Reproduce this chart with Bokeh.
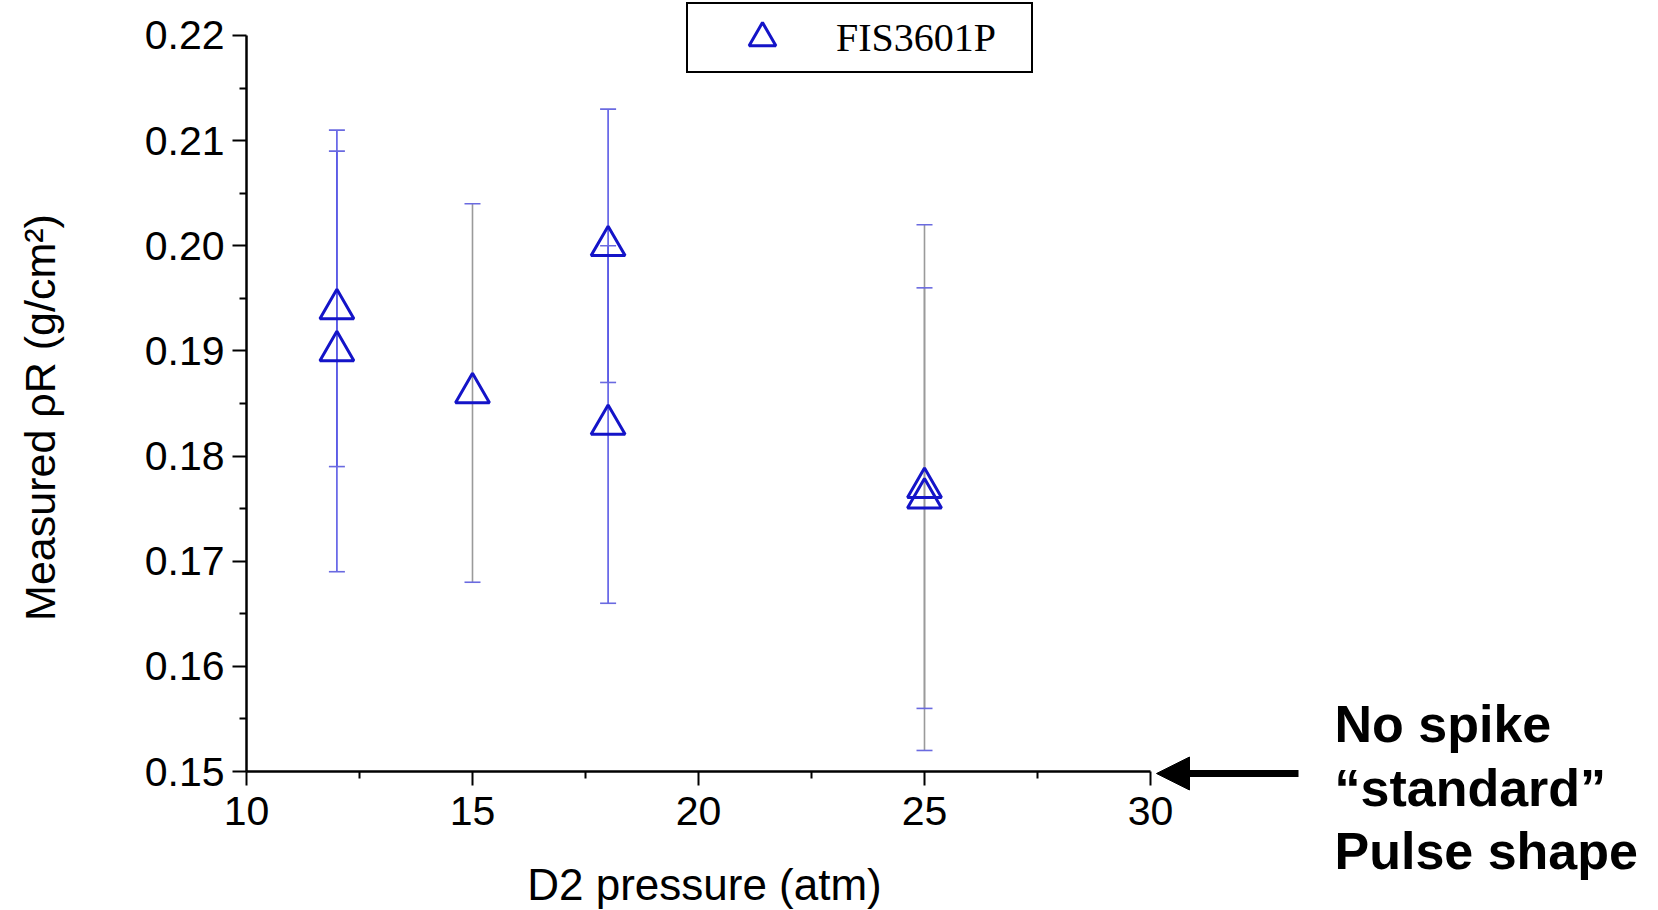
import math
from bokeh.plotting import figure
from bokeh.models import (Range1d, FixedTicker, Legend, LegendItem, Arrow, NormalHead,
                          Label, ColumnDataSource, NumeralTickFormatter)
from bokeh.embed import file_html
from bokeh.resources import INLINE

# ---------------- data ----------------
pressure = [12, 12, 15, 18, 18, 25, 25]
rho_r = [0.194, 0.190, 0.186, 0.200, 0.183, 0.177, 0.176]
rho_err = [0.015, 0.021, 0.018, 0.013, 0.017, 0.025, 0.020]
gray_bar_pressures = [15, 25]

x_ticks = [10, 15, 20, 25, 30]
x_minor = [12.5, 17.5, 22.5, 27.5]
y_ticks = [0.15, 0.16, 0.17, 0.18, 0.19, 0.20, 0.21, 0.22]
y_minor = [0.155, 0.165, 0.175, 0.185, 0.195, 0.205, 0.215]

series_name = "FIS3601P"
x_title = "D2 pressure (atm)"
y_title = "Measured \u03c1R (g/cm\u00b2)"
note_lines = ["No spike", "\u201cstandard\u201d", "Pulse shape"]

# ---------------- layout (pixel geometry of the page) ----------------
W, H = 1658, 910
X0_PX, X_PER_UNIT = 246.0, 45.2        # x=10 at 246 px, 45.2 px per atm
Y0_PX, Y_PER_UNIT = 771.0, 10514.3     # y=0.15 at 771 px (from top)


def dx(px):
    return 10 + (px - X0_PX) / X_PER_UNIT


def dy(py):
    return 0.15 + (Y0_PX - py) / Y_PER_UNIT


# ---------------- styles ----------------
MARK = "#1414c8"
BAR_BLUE = "#5a5ae6"
BAR_GRAY = "#9a9a9a"
CAP = "#6a6ae0"
FONT = "Liberation Sans"

lo = [v - e for v, e in zip(rho_r, rho_err)]
hi = [v + e for v, e in zip(rho_r, rho_err)]
bar_colors = [BAR_GRAY if x in gray_bar_pressures else BAR_BLUE for x in pressure]

src = ColumnDataSource(dict(x=pressure, y=rho_r, lo=lo, hi=hi, c=bar_colors))

p = figure(width=W, height=H, output_backend="svg", toolbar_location=None,
           x_range=Range1d(dx(0), dx(W)), y_range=Range1d(dy(H), dy(0)),
           min_border_left=0, min_border_right=0, min_border_top=0, min_border_bottom=0)
p.grid.visible = False
p.outline_line_color = None
p.background_fill_color = "white"
p.border_fill_color = "white"

# error bars
p.segment(x0="x", y0="lo", x1="x", y1="hi", source=src, line_color="c", line_width=1.6)
p.scatter(x="x", y="hi", source=src, marker="dash", size=16, line_color=CAP, line_width=1.6)
p.scatter(x="x", y="lo", source=src, marker="dash", size=16, line_color=CAP, line_width=1.6)

# markers
marks = p.scatter(x="x", y="y", source=src, marker="triangle", size=34,
                  fill_color=None, line_color=MARK, line_width=3)

# axes (fixed inside the full-canvas frame)
for ax in (p.xaxis[0], p.yaxis[0]):
    ax.axis_line_width = 2.5
    ax.axis_line_color = "black"
    ax.major_tick_line_width = 2
    ax.minor_tick_line_width = 2
    ax.major_tick_in = 0
    ax.major_tick_out = 14
    ax.minor_tick_in = 0
    ax.minor_tick_out = 7
    ax.major_label_text_font = FONT
    ax.major_label_text_font_size = "41px"
    ax.major_label_text_color = "black"

p.xaxis.fixed_location = 0.15
p.xaxis.bounds = (10, 30)
p.xaxis.ticker = FixedTicker(ticks=x_ticks, minor_ticks=x_minor)
p.xaxis.formatter = NumeralTickFormatter(format="0")
p.xaxis.major_label_standoff = 11

p.yaxis.fixed_location = 10
p.yaxis.bounds = (0.15, 0.22)
p.yaxis.ticker = FixedTicker(ticks=y_ticks, minor_ticks=y_minor)
p.yaxis.formatter = NumeralTickFormatter(format="0.00")
p.yaxis.major_label_standoff = 8

# axis titles (positions compensate Bokeh's baseline offset)
p.add_layout(Label(x=dx(704), y=dy(884), text=x_title, text_font=FONT,
                   text_font_size="44px", text_color="black",
                   text_align="center", text_baseline="alphabetic"))
p.add_layout(Label(x=dx(39), y=dy(417), text=y_title, text_font=FONT,
                   text_font_size="43px", text_color="black", angle=math.pi / 2,
                   text_align="center", text_baseline="alphabetic"))

# legend
legend = Legend(items=[LegendItem(label=series_name, renderers=[marks])],
                location=(686, H - 73), orientation="vertical",
                border_line_color="black", border_line_width=2, border_line_alpha=1,
                background_fill_color="white", background_fill_alpha=1,
                padding=0, margin=0, spacing=0,
                glyph_width=148, glyph_height=67, label_standoff=0,
                label_width=195, label_height=67,
                label_text_font="Liberation Serif", label_text_font_size="40px",
                label_text_color="black")
p.add_layout(legend)

# arrow + note
p.add_layout(Arrow(end=NormalHead(size=33, fill_color="black", line_color="black", line_width=1),
                   x_start=dx(1298), y_start=dy(773), x_end=dx(1156), y_end=dy(773),
                   line_width=7, line_color="black"))
for txt, py in zip(note_lines, [723, 787, 850]):
    p.add_layout(Label(x=dx(1334), y=dy(py), text=txt, text_font=FONT, text_font_style="bold",
                       text_font_size="52px", text_color="black",
                       text_align="left", text_baseline="alphabetic"))

open("out.html", "w").write(file_html(p, INLINE))
